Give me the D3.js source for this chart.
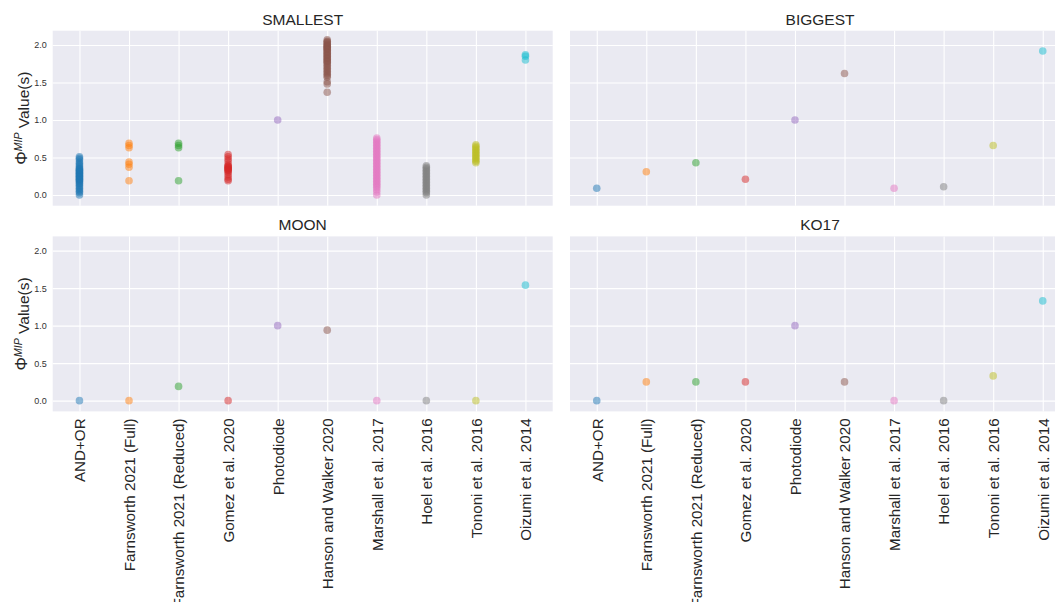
<!DOCTYPE html>
<html>
<head>
<meta charset="utf-8">
<script src="https://cdn.jsdelivr.net/npm/d3@7"></script>
<style>
  body { margin: 0; background: #fff; }
  svg { font-family: "Liberation Sans", Arial, sans-serif; }
  .tick line { stroke: #fff; stroke-width: 1.1; }
  .domain { display: none; }
</style>
</head>
<body>
<div id="chart"></div>
<script>
// categories on the x axis
var categories = ["AND+OR", "Farnsworth 2021 (Full)", "Farnsworth 2021 (Reduced)", "Gomez et al. 2020",
    "Photodiode", "Hanson and Walker 2020", "Marshall et al. 2017", "Hoel et al. 2016",
    "Tononi et al. 2016", "Oizumi et al. 2014"];
var colours = ["#1f77b4", "#ff7f0e", "#2ca02c", "#d62728", "#9467bd", "#8c564b", "#e377c2", "#7f7f7f", "#bcbd22", "#17becf"];
var yTicks = [0.0, 0.5, 1.0, 1.5, 2.0];

// SMALLEST: many values per category
var smallest = [
    [0.00, 0.03, 0.05, 0.07, 0.09, 0.11, 0.13, 0.15, 0.16, 0.18, 0.19, 0.20, 0.21, 0.22, 0.23, 0.24, 0.25, 0.26,
     0.27, 0.28, 0.29, 0.30, 0.31, 0.32, 0.33, 0.34, 0.35, 0.36, 0.38, 0.40, 0.42, 0.44, 0.47, 0.49, 0.51],
    [0.69, 0.66, 0.63, 0.44, 0.41, 0.37, 0.19],
    [0.69, 0.66, 0.63, 0.19],
    [0.54, 0.51, 0.48, 0.45, 0.41, 0.39, 0.38, 0.37, 0.36, 0.35, 0.34, 0.33, 0.32, 0.30, 0.27, 0.24, 0.21, 0.19],
    [1.00],
    [2.07, 2.05, 2.04, 2.03, 2.01, 2.00, 1.99, 1.98, 1.97, 1.96, 1.95, 1.94, 1.93, 1.91, 1.90, 1.89, 1.87, 1.86,
     1.85, 1.83, 1.82, 1.81, 1.79, 1.78, 1.77, 1.75, 1.73, 1.71, 1.69, 1.67, 1.65, 1.63, 1.61, 1.59, 1.57,
     1.51, 1.48, 1.37],
    [0.00, 0.04, 0.07, 0.10, 0.12, 0.14, 0.16, 0.18, 0.20, 0.22, 0.24, 0.26, 0.28, 0.30, 0.32, 0.34, 0.36, 0.38,
     0.40, 0.42, 0.44, 0.46, 0.48, 0.50, 0.52, 0.54, 0.56, 0.58, 0.60, 0.62, 0.64, 0.66, 0.68, 0.70, 0.72, 0.74, 0.76],
    [0.00, 0.03, 0.05, 0.07, 0.09, 0.11, 0.13, 0.15, 0.17, 0.19, 0.21, 0.23, 0.25, 0.27, 0.29, 0.31, 0.33, 0.35, 0.37, 0.39],
    [0.43, 0.45, 0.47, 0.49, 0.51, 0.53, 0.55, 0.57, 0.59, 0.61, 0.63, 0.65, 0.67],
    [1.87, 1.85, 1.80]
];
// one value per category for the other panels
var biggest = [0.09, 0.31, 0.43, 0.21, 1.00, 1.62, 0.09, 0.11, 0.66, 1.92];
var moon    = [0.00, 0.00, 0.19, 0.00, 1.00, 0.94, 0.00, 0.00, 0.00, 1.54];
var ko17    = [0.00, 0.25, 0.25, 0.25, 1.00, 0.25, 0.00, 0.00, 0.33, 1.33];

var panels = [
    {title: "SMALLEST", values: smallest, col: 0, row: 0},
    {title: "BIGGEST", values: biggest.map(function(v) { return [v]; }), col: 1, row: 0},
    {title: "MOON", values: moon.map(function(v) { return [v]; }), col: 0, row: 1},
    {title: "KO17", values: ko17.map(function(v) { return [v]; }), col: 1, row: 1}
];

var W = 1055, H = 602;
var panelW = 500, panelH = 175;
var lefts = [52.7, 570], tops = [30.7, 236.4];

var svg = d3.select("#chart").append("svg").attr("width", W).attr("height", H);

var xScale = d3.scaleLinear().domain([-0.54, 9.55]).range([0, panelW]);
var yScale = d3.scaleLinear().domain([-0.143, 2.19]).range([panelH, 0]);

panels.forEach(function(p) {
    var g = svg.append("g").attr("transform", "translate(" + lefts[p.col] + "," + tops[p.row] + ")");
    g.append("rect").attr("width", panelW).attr("height", panelH).attr("fill", "#eaeaf2");

    var xAxis = d3.axisBottom(xScale).tickValues(d3.range(categories.length))
        .tickSize(-panelH).tickFormat(function(i) { return p.row == 1 ? categories[i] : ""; });
    var gx = g.append("g").attr("transform", "translate(0," + panelH + ")").call(xAxis);
    gx.selectAll("text")
        .attr("transform", "rotate(-90)")
        .attr("x", -7).attr("y", 0).attr("dy", "0.35em")
        .style("text-anchor", "end")
        .style("font-size", "15.2px").attr("fill", "#262626");

    var yAxis = d3.axisLeft(yScale).tickValues(yTicks).tickSize(-panelW).tickPadding(6)
        .tickFormat(function(d) { return p.col == 0 ? d3.format(".1f")(d) : ""; });
    var gy = g.append("g").call(yAxis);
    gy.selectAll("text").style("font-size", "9px").attr("fill", "#333");

    g.append("text")
        .attr("x", panelW / 2).attr("y", -6)
        .attr("text-anchor", "middle")
        .style("font-size", "15.5px").attr("fill", "#262626")
        .text(p.title);

    if (p.col == 0) {
        var lab = g.append("text")
            .attr("transform", "translate(-26," + (panelH / 2) + ") rotate(-90)")
            .attr("text-anchor", "middle")
            .style("font-size", "15.5px").attr("fill", "#262626");
        lab.append("tspan").style("font-size", "17px").text("\u03A6");
        lab.append("tspan").attr("dy", "-0.45em").style("font-size", "10.5px").style("font-style", "italic").text("MIP");
        lab.append("tspan").attr("dy", "0.45em").text(" Value(s)");
    }

    p.values.forEach(function(vals, i) {
        g.selectAll(".pt-" + i).data(vals).enter().append("circle")
            .attr("cx", xScale(i))
            .attr("cy", function(d) { return yScale(d); })
            .attr("r", 3.8)
            .attr("fill", colours[i])
            .attr("fill-opacity", 0.5);
    });
});
</script>
</body>
</html>
